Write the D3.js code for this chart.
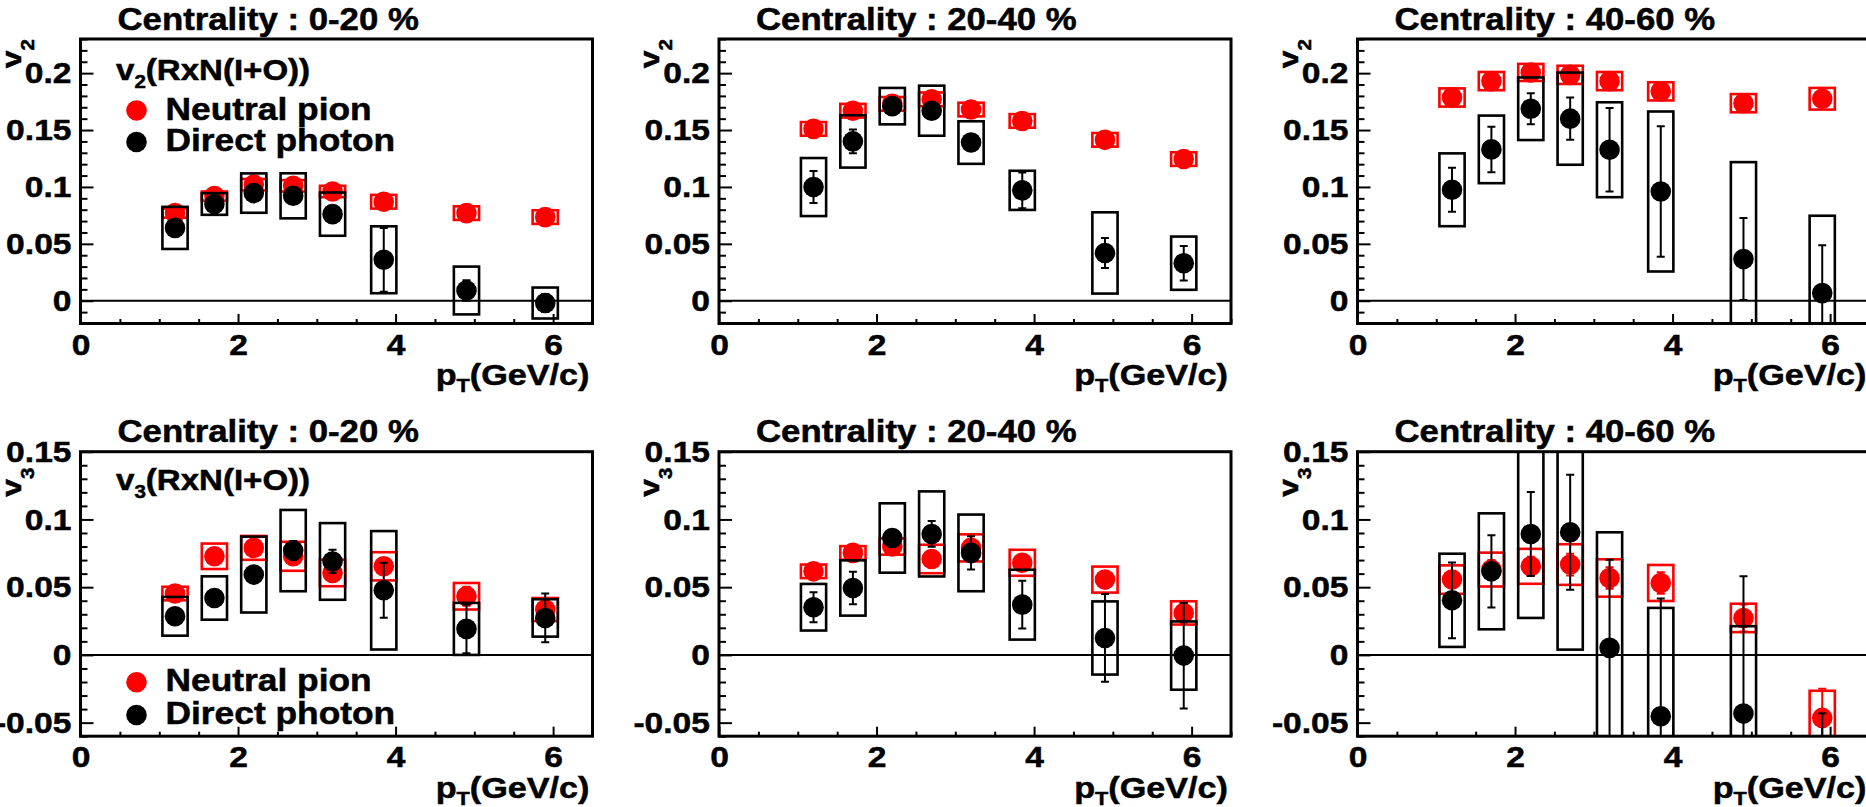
<!DOCTYPE html>
<html>
<head>
<meta charset="utf-8">
<script src="https://cdn.jsdelivr.net/npm/d3@7"></script>
<style>
  body { margin: 0; background: #fff; }
  svg { display: block; }
  text { font-family: "Liberation Sans", Arial, Helvetica, sans-serif; font-weight: bold; fill: #000; stroke: #000; stroke-width: 0.5px; }
</style>
</head>
<body>
<svg id="chart" width="1866" height="807"></svg>
<script>
const ptBins = [1.2, 1.7, 2.2, 2.7, 3.2, 3.85, 4.9, 5.9];
const centralities = ["0-20", "20-40", "40-60"];
const xTicks = [0, 2, 4, 6];
const v2Ticks = [0, 0.05, 0.1, 0.15, 0.2];
const v3Ticks = [-0.05, 0, 0.05, 0.1, 0.15];
const seriesNames = ["Neutral pion", "Direct photon"];

// one row per centrality class
const v2Pion = [
    [0.077, 0.092, 0.102, 0.101, 0.096, 0.087, 0.077, 0.0735],
    [0.151, 0.167, 0.173, 0.177, 0.168, 0.158, 0.1414, 0.1245],
    [0.1786, 0.193, 0.2006, 0.1985, 0.193, 0.184, 0.1736, 0.1775]
];
const v2PionStat = [
    [0.001, 0.001, 0.002, 0.002, 0.002, 0.002, 0.003, 0.004],
    [0.001, 0.001, 0.002, 0.002, 0.002, 0.002, 0.003, 0.004],
    [0.002, 0.002, 0.002, 0.002, 0.003, 0.003, 0.004, 0.005]
];
const v2PionSys = [
    [0.004, 0.004, 0.005, 0.005, 0.005, 0.006, 0.006, 0.006],
    [0.006, 0.006, 0.006, 0.006, 0.006, 0.006, 0.006, 0.006],
    [0.008, 0.008, 0.0075, 0.008, 0.008, 0.008, 0.008, 0.0095]
];
const v2Photon = [
    [0.064, 0.085, 0.0946, 0.0922, 0.0761, 0.036, 0.009, -0.002],
    [0.0999, 0.140, 0.171, 0.167, 0.139, 0.097, 0.042, 0.033],
    [0.0975, 0.133, 0.1687, 0.160, 0.1327, 0.096, 0.0366, 0.0067]
];
const v2PhotonStat = [
    [0.004, 0.004, 0.004, 0.005, 0.005, 0.028, 0.009, 0.008],
    [0.014, 0.0105, 0.004, 0.004, 0.005, 0.0157, 0.0132, 0.0152],
    [0.0193, 0.020, 0.0136, 0.0186, 0.0366, 0.0574, 0.036, 0.042]
];
const v2PhotonSys = [
    [0.0185, 0.0095, 0.0173, 0.0198, 0.019, 0.0294, 0.021, 0.0136],
    [0.0255, 0.023, 0.016, 0.022, 0.0187, 0.0172, 0.0357, 0.0234],
    [0.032, 0.0297, 0.0275, 0.0405, 0.0417, 0.0703, 0.0852, 0.068]
];

const v3Pion = [
    [0.0453, 0.0728, 0.079, 0.0728, 0.0605, 0.0654, 0.0433, 0.0335],
    [0.0617, 0.0753, 0.080, 0.0708, 0.079, 0.068, 0.0556, 0.031],
    [0.0556, 0.063, 0.0654, 0.0667, 0.0568, 0.0531, 0.0273, -0.0465]
];
const v3PionStat = [
    [0.004, 0.005, 0.005, 0.006, 0.006, 0.006, 0.007, 0.007],
    [0.003, 0.004, 0.004, 0.005, 0.005, 0.006, 0.006, 0.008],
    [0.006, 0.007, 0.007, 0.008, 0.008, 0.008, 0.010, 0.0215]
];
const v3PionSys = [
    [0.005, 0.0094, 0.0088, 0.0107, 0.0098, 0.0104, 0.0098, 0.0085],
    [0.005, 0.005, 0.006, 0.0105, 0.010, 0.0096, 0.0096, 0.0086],
    [0.0105, 0.0125, 0.0129, 0.015, 0.0138, 0.0133, 0.0105, 0.020]
];
const v3Photon = [
    [0.0285, 0.042, 0.0593, 0.077, 0.069, 0.0477, 0.0192, 0.0273],
    [0.0352, 0.0494, 0.0863, 0.0893, 0.0753, 0.0371, 0.0125, -0.0005],
    [0.0403, 0.0617, 0.0893, 0.0905, 0.0052, -0.0453, -0.0433, -0.075]
];
const v3PhotonStat = [
    [0.005, 0.005, 0.006, 0.007, 0.0086, 0.0203, 0.018, 0.018],
    [0.011, 0.012, 0.005, 0.0095, 0.0123, 0.0176, 0.0324, 0.039],
    [0.028, 0.0267, 0.031, 0.0424, 0.065, 0.087, 0.1013, 0.032]
];
const v3PhotonSys = [
    [0.0143, 0.016, 0.028, 0.030, 0.0283, 0.0437, 0.0192, 0.0138],
    [0.0172, 0.0204, 0.0256, 0.0314, 0.0283, 0.0258, 0.027, 0.0252],
    [0.0344, 0.0428, 0.062, 0.0866, 0.0853, 0.080, 0.0645, 0.010]
];

class FlowPanel {
    #frameW = 512;
    #frameH = 284.5;
    #boxHalf = 0.16;
    #markerR = 10.3;
    #capHalf = 4;
    #stretch = 1.14;
    #tickStretch = 1.12;

    constructor(svg, id, left, top, yDomain) {
        this.g = svg.append("g");
        this.left = left;
        this.top = top;
        this.right = left + this.#frameW;
        this.bottom = top + this.#frameH;

        this.x = d3.scaleLinear().domain([0, 6.5]).range([left, this.right]);
        this.y = d3.scaleLinear().domain(yDomain).range([this.bottom, top]);

        svg.append("clipPath").attr("id", "clip-" + id)
            .append("rect")
            .attr("x", left).attr("y", top)
            .attr("width", this.#frameW).attr("height", this.#frameH);

        this.plot = this.g.append("g").attr("clip-path", `url(#clip-${id})`);
    }

    // parts: plain strings, or [string] for a subscript
    label(x, y, parts, {size = 31, subSize = 18, subDy = 8, anchor = "start", rotate = 0} = {}) {
        const t = this.g.append("text")
            .attr("transform", `translate(${x},${y}) rotate(${rotate}) scale(${this.#stretch},1)`)
            .attr("text-anchor", anchor)
            .attr("font-size", size);
        let shift = 0;
        parts.forEach(p => {
            const isSub = Array.isArray(p);
            const target = isSub ? subDy : 0;
            t.append("tspan")
                .attr("font-size", isSub ? subSize : size)
                .attr("dy", target - shift)
                .text(isSub ? p[0] : p);
            shift = target;
        });
        return t;
    }

    stretchTicks(axisG) {
        const s = this.#tickStretch;
        axisG.selectAll("text").each(function() {
            const x = +this.getAttribute("x") || 0;
            d3.select(this)
                .attr("x", x / s)
                .attr("transform", `scale(${s},1)`)
                .attr("font-size", 30);
        });
    }

    drawAxes(yMajor, yLo, yHi) {
        const yMinor = d3.range(Math.round(yLo * 100), Math.round(yHi * 100) + 1)
            .map(v => v / 100)
            .filter(v => Math.abs(v * 20 - Math.round(v * 20)) > 1e-6);
        const xMinor = d3.range(1, 14).map(v => v / 2).filter(v => v % 2 !== 0);

        const styleAxis = g => {
            g.select(".domain").remove();
            g.attr("font-family", null).attr("font-size", null);
            g.selectAll("line").attr("stroke", "#000").attr("stroke-width", 2);
        };

        this.g.append("g").attr("transform", `translate(${this.left},0)`)
            .call(d3.axisLeft(this.y).tickValues(yMinor).tickSize(-7).tickFormat(""))
            .call(styleAxis);
        const yMajorG = this.g.append("g").attr("transform", `translate(${this.left},0)`)
            .call(d3.axisLeft(this.y).tickValues(yMajor).tickSize(-13).tickPadding(9)
                .tickFormat(d => d3.format("~g")(d).replace("−", "-")))
            .call(styleAxis);
        this.stretchTicks(yMajorG);

        this.g.append("g").attr("transform", `translate(0,${this.bottom})`)
            .call(d3.axisBottom(this.x).tickValues(xMinor).tickSize(-4.5).tickFormat(""))
            .call(styleAxis);
        const xMajorG = this.g.append("g").attr("transform", `translate(0,${this.bottom})`)
            .call(d3.axisBottom(this.x).tickValues(xTicks).tickSize(-9.5).tickPadding(10)
                .tickFormat(d3.format("d")))
            .call(styleAxis);
        this.stretchTicks(xMajorG);

        this.plot.append("line")
            .attr("x1", this.left).attr("x2", this.right)
            .attr("y1", this.y(0)).attr("y2", this.y(0))
            .attr("stroke", "#000").attr("stroke-width", 2);
    }

    drawSeries(vals, stat, sys, color) {
        const pts = ptBins.map((pt, i) => ({pt: pt, v: vals[i], stat: stat[i], sys: sys[i]}));
        const layer = this.plot.append("g");

        layer.selectAll(".sys")
            .data(pts)
            .join("rect")
            .attr("class", "sys")
            .attr("x", d => this.x(d.pt - this.#boxHalf))
            .attr("width", d => this.x(d.pt + this.#boxHalf) - this.x(d.pt - this.#boxHalf))
            .attr("y", d => this.y(d.v + d.sys))
            .attr("height", d => this.y(d.v - d.sys) - this.y(d.v + d.sys))
            .attr("fill", "none")
            .attr("stroke", color)
            .attr("stroke-width", 2.6);

        const bars = layer.selectAll(".stat")
            .data(pts)
            .join("g")
            .attr("class", "stat")
            .attr("stroke", color)
            .attr("stroke-width", 2);
        bars.append("line")
            .attr("x1", d => this.x(d.pt)).attr("x2", d => this.x(d.pt))
            .attr("y1", d => this.y(d.v + d.stat)).attr("y2", d => this.y(d.v - d.stat));
        [1, -1].forEach(sign => {
            bars.append("line")
                .attr("x1", d => this.x(d.pt) - this.#capHalf)
                .attr("x2", d => this.x(d.pt) + this.#capHalf)
                .attr("y1", d => this.y(d.v + sign * d.stat))
                .attr("y2", d => this.y(d.v + sign * d.stat));
        });

        layer.selectAll(".marker")
            .data(pts)
            .join("circle")
            .attr("class", "marker")
            .attr("cx", d => this.x(d.pt))
            .attr("cy", d => this.y(d.v))
            .attr("r", this.#markerR)
            .attr("fill", color);
    }

    drawFrame() {
        this.g.append("rect")
            .attr("x", this.left).attr("y", this.top)
            .attr("width", this.#frameW).attr("height", this.#frameH)
            .attr("fill", "none")
            .attr("stroke", "#000")
            .attr("stroke-width", 3);
    }

    drawLegend(yFirst, gap) {
        const colors = ["#ff0000", "#000000"];
        seriesNames.forEach((name, i) => {
            const cy = yFirst + i * gap;
            this.g.append("circle")
                .attr("cx", this.left + 56).attr("cy", cy)
                .attr("r", this.#markerR)
                .attr("fill", colors[i]);
            this.label(this.left + 85, cy + 9, [name], {size: 31});
        });
    }
}

const svg = d3.select("#chart");
const colLeft = [80.5, 719, 1357.5];
const rows = [
    {n: "2", top: 39, domain: [-0.02, 0.23], ticks: v2Ticks, tagDy: 41, titleEnd: 0, legend: [71.5, 31.5],
     pion: v2Pion, pionStat: v2PionStat, pionSys: v2PionSys,
     photon: v2Photon, photonStat: v2PhotonStat, photonSys: v2PhotonSys},
    {n: "3", top: 451.7, domain: [-0.06, 0.15], ticks: v3Ticks, tagDy: 38.5, titleEnd: 16, legend: [230.6, 32.7],
     pion: v3Pion, pionStat: v3PionStat, pionSys: v3PionSys,
     photon: v3Photon, photonStat: v3PhotonStat, photonSys: v3PhotonSys}
];

rows.forEach((row, r) => {
    centralities.forEach((cent, c) => {
        const p = new FlowPanel(svg, `${r}-${c}`, colLeft[c], row.top, row.domain);
        p.drawAxes(row.ticks, row.domain[0], row.domain[1]);
        p.drawSeries(row.pion[c], row.pionStat[c], row.pionSys[c], "#ff0000");
        p.drawSeries(row.photon[c], row.photonStat[c], row.photonSys[c], "#000000");
        p.drawFrame();

        p.label(p.left + 37, p.top - 9.5, [`Centrality : ${cent} %`], {size: 30.5});
        p.label(p.left - 60, p.top + row.titleEnd, ["v", [row.n]],
            {size: 28, subSize: 18, subDy: 13, anchor: "end", rotate: -90});
        p.label(p.right - 3, p.bottom + 61.5, ["p", ["T"], "(GeV/c)"],
            {size: 30, subSize: 19, subDy: 7, anchor: "end"});

        if (c === 0) {
            p.label(p.left + 35.5, p.top + row.tagDy, ["v", [row.n], "(RxN(I+O))"],
                {size: 29, subSize: 18, subDy: 8});
            p.drawLegend(p.top + row.legend[0], row.legend[1]);
        }
    });
});
</script>
</body>
</html>
